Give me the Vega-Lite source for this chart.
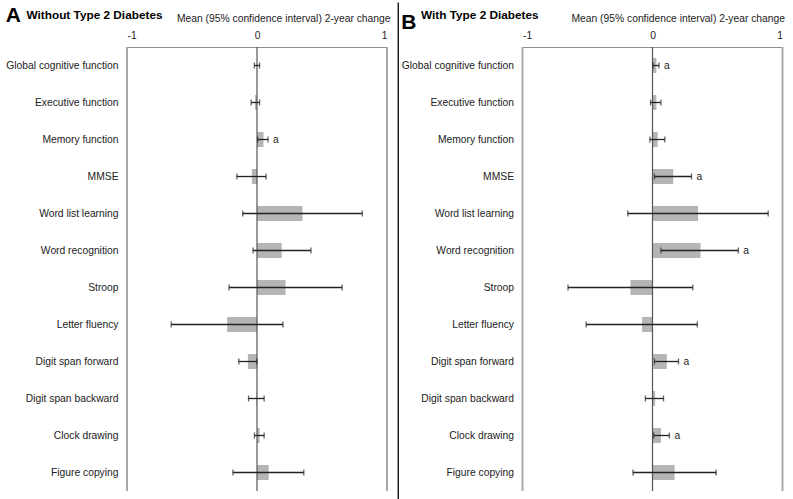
{
  "$schema": "https://vega.github.io/schema/vega-lite/v6.json",
  "padding": {"left": 5, "top": 1, "right": 4, "bottom": 5},
  "background": "white",
  "config": {
    "font": "Liberation Sans",
    "view": {"stroke": null},
    "concat": {"spacing": 1.5}
  },
  "datasets": {
    "scores": [
      {"panel": "A", "measure": "Global cognitive function", "mean": 0.0, "lo": -0.02, "hi": 0.02, "sig": ""},
      {"panel": "A", "measure": "Executive function", "mean": -0.015, "lo": -0.045, "hi": 0.02, "sig": ""},
      {"panel": "A", "measure": "Memory function", "mean": 0.05, "lo": 0.005, "hi": 0.085, "sig": "a"},
      {"panel": "A", "measure": "MMSE", "mean": -0.04, "lo": -0.155, "hi": 0.07, "sig": ""},
      {"panel": "A", "measure": "Word list learning", "mean": 0.35, "lo": -0.11, "hi": 0.81, "sig": ""},
      {"panel": "A", "measure": "Word recognition", "mean": 0.19, "lo": -0.03, "hi": 0.415, "sig": ""},
      {"panel": "A", "measure": "Stroop", "mean": 0.22, "lo": -0.215, "hi": 0.655, "sig": ""},
      {"panel": "A", "measure": "Letter fluency", "mean": -0.23, "lo": -0.66, "hi": 0.2, "sig": ""},
      {"panel": "A", "measure": "Digit span forward", "mean": -0.07, "lo": -0.14, "hi": 0.0, "sig": ""},
      {"panel": "A", "measure": "Digit span backward", "mean": -0.005, "lo": -0.065, "hi": 0.055, "sig": ""},
      {"panel": "A", "measure": "Clock drawing", "mean": 0.02, "lo": -0.02, "hi": 0.055, "sig": ""},
      {"panel": "A", "measure": "Figure copying", "mean": 0.09, "lo": -0.185, "hi": 0.36, "sig": ""},
      {"panel": "B", "measure": "Global cognitive function", "mean": 0.03, "lo": 0.005, "hi": 0.05, "sig": "a"},
      {"panel": "B", "measure": "Executive function", "mean": 0.03, "lo": -0.015, "hi": 0.065, "sig": ""},
      {"panel": "B", "measure": "Memory function", "mean": 0.04, "lo": -0.02, "hi": 0.095, "sig": ""},
      {"panel": "B", "measure": "MMSE", "mean": 0.16, "lo": 0.015, "hi": 0.3, "sig": "a"},
      {"panel": "B", "measure": "Word list learning", "mean": 0.35, "lo": -0.19, "hi": 0.89, "sig": ""},
      {"panel": "B", "measure": "Word recognition", "mean": 0.37, "lo": 0.065, "hi": 0.66, "sig": "a"},
      {"panel": "B", "measure": "Stroop", "mean": -0.17, "lo": -0.65, "hi": 0.31, "sig": ""},
      {"panel": "B", "measure": "Letter fluency", "mean": -0.08, "lo": -0.51, "hi": 0.345, "sig": ""},
      {"panel": "B", "measure": "Digit span forward", "mean": 0.11, "lo": 0.015, "hi": 0.2, "sig": "a"},
      {"panel": "B", "measure": "Digit span backward", "mean": 0.02, "lo": -0.055, "hi": 0.085, "sig": ""},
      {"panel": "B", "measure": "Clock drawing", "mean": 0.065, "lo": 0.01, "hi": 0.13, "sig": "a"},
      {"panel": "B", "measure": "Figure copying", "mean": 0.17, "lo": -0.15, "hi": 0.49, "sig": ""}
    ]
  },
  "hconcat": [
    {
      "width": 260,
      "height": 444,
      "title": {"text": "A", "anchor": "start", "frame": "bounds", "fontSize": 21, "fontWeight": "bold", "color": "#000", "offset": -24},
      "layer": [
        {
          "layer": [
            {"data": {"values": [{}]}, "mark": {"type": "rule", "color": "#a8a8a8", "strokeWidth": 2}, "encoding": {"x": {"datum": -1, "type": "quantitative"}}},
            {"data": {"values": [{}]}, "mark": {"type": "rule", "color": "#a8a8a8", "strokeWidth": 2}, "encoding": {"x": {"datum": 1, "type": "quantitative"}}},
            {
              "data": {"name": "scores"},
              "transform": [{"filter": "datum.panel == 'A'"}],
              "mark": {"type": "bar", "color": "#b5b5b5", "size": 15},
              "encoding": {
                "y": {"field": "measure", "type": "nominal", "sort": null, "scale": {"paddingInner": 0, "paddingOuter": 0},
                  "axis": {"title": "Without Type 2 Diabetes", "titleAngle": 0, "titleAlign": "left", "titleBaseline": "alphabetic", "titleX": -101, "titleY": -29, "titleFontSize": 11.8, "titleFontWeight": "bold", "titleColor": "#000",
                    "ticks": false, "domain": false, "labelPadding": 9, "labelFontSize": 10.3, "labelColor": "#222", "minExtent": 121, "maxExtent": 121, "labelLimit": 200}},
                "x": {"field": "mean", "type": "quantitative", "scale": {"domain": [-1, 1], "nice": false, "zero": true},
                  "axis": {"orient": "top", "values": [-1, 0, 1], "labelExpr": "'' + datum.value", "grid": false, "ticks": false, "domainColor": "#8c8c8c", "labelPadding": 7, "labelFontSize": 10.3, "labelColor": "#222",
                    "title": "Mean (95% confidence interval) 2-year change", "titleFontSize": 10.3, "titleFontWeight": "normal", "titleColor": "#222", "titleX": 263, "titleY": -26, "titleAlign": "right", "titleBaseline": "alphabetic"}}
              }
            },
            {"data": {"values": [{}]}, "mark": {"type": "rule", "color": "#555", "strokeWidth": 1.2}, "encoding": {"x": {"datum": 0, "type": "quantitative"}}},
            {
              "data": {"name": "scores"},
              "transform": [{"filter": "datum.panel == 'A'"}],
              "mark": {"type": "rule", "color": "#222", "strokeWidth": 1.3},
              "encoding": {"y": {"field": "measure", "type": "nominal", "sort": null}, "x": {"field": "lo", "type": "quantitative"}, "x2": {"field": "hi"}}
            },
            {
              "data": {"name": "scores"},
              "transform": [{"filter": "datum.panel == 'A'"}],
              "mark": {"type": "tick", "color": "#222", "size": 6, "thickness": 1.3},
              "encoding": {"y": {"field": "measure", "type": "nominal", "sort": null}, "x": {"field": "lo", "type": "quantitative"}}
            },
            {
              "data": {"name": "scores"},
              "transform": [{"filter": "datum.panel == 'A'"}],
              "mark": {"type": "tick", "color": "#222", "size": 6, "thickness": 1.3},
              "encoding": {"y": {"field": "measure", "type": "nominal", "sort": null}, "x": {"field": "hi", "type": "quantitative"}}
            },
            {
              "data": {"name": "scores"},
              "transform": [{"filter": "datum.panel == 'A' && datum.sig == 'a'"}],
              "mark": {"type": "text", "align": "left", "dx": 5, "fontSize": 10.3, "color": "#222"},
              "encoding": {"y": {"field": "measure", "type": "nominal", "sort": null}, "x": {"field": "hi", "type": "quantitative"}, "text": {"field": "sig"}}
            }
          ]
        },
        {
          "data": {"values": [{}]},
          "mark": {"type": "rule", "color": "#000", "strokeWidth": 1.3},
          "encoding": {
            "x": {"datum": 1.0865, "type": "quantitative"},
            "y": {"datum": 1.1, "type": "quantitative", "scale": {"domain": [0, 1], "nice": false, "zero": false}, "axis": null},
            "y2": {"datum": -0.03}
          }
        }
      ],
      "resolve": {"scale": {"y": "independent"}, "axis": {"y": "independent"}}
    },
    {
      "width": 260,
      "height": 444,
      "title": {"text": "B", "anchor": "start", "frame": "bounds", "fontSize": 21, "fontWeight": "bold", "color": "#000", "offset": -24},
      "data": {"name": "scores"},
      "transform": [{"filter": "datum.panel == 'B'"}],
      "layer": [
        {"data": {"values": [{}]}, "mark": {"type": "rule", "color": "#a8a8a8", "strokeWidth": 2}, "encoding": {"x": {"datum": -1, "type": "quantitative"}}},
        {"data": {"values": [{}]}, "mark": {"type": "rule", "color": "#a8a8a8", "strokeWidth": 2}, "encoding": {"x": {"datum": 1, "type": "quantitative"}}},
        {
          "mark": {"type": "bar", "color": "#b5b5b5", "size": 15},
          "encoding": {
            "y": {"field": "measure", "type": "nominal", "sort": null, "scale": {"paddingInner": 0, "paddingOuter": 0},
              "axis": {"title": "With Type 2 Diabetes", "titleAngle": 0, "titleAlign": "left", "titleBaseline": "alphabetic", "titleX": -102, "titleY": -29, "titleFontSize": 11.8, "titleFontWeight": "bold", "titleColor": "#000",
                "ticks": false, "domain": false, "labelPadding": 9, "labelFontSize": 10.3, "labelColor": "#222", "minExtent": 121, "maxExtent": 121, "labelLimit": 200}},
            "x": {"field": "mean", "type": "quantitative", "scale": {"domain": [-1, 1], "nice": false, "zero": true},
              "axis": {"orient": "top", "values": [-1, 0, 1], "labelExpr": "'' + datum.value", "grid": false, "ticks": false, "domainColor": "#8c8c8c", "labelPadding": 7, "labelFontSize": 10.3, "labelColor": "#222",
                "title": "Mean (95% confidence interval) 2-year change", "titleFontSize": 10.3, "titleFontWeight": "normal", "titleColor": "#222", "titleX": 262, "titleY": -26, "titleAlign": "right", "titleBaseline": "alphabetic"}}
          }
        },
        {"data": {"values": [{}]}, "mark": {"type": "rule", "color": "#555", "strokeWidth": 1.2}, "encoding": {"x": {"datum": 0, "type": "quantitative"}}},
        {
          "mark": {"type": "rule", "color": "#222", "strokeWidth": 1.3},
          "encoding": {"y": {"field": "measure", "type": "nominal", "sort": null}, "x": {"field": "lo", "type": "quantitative"}, "x2": {"field": "hi"}}
        },
        {
          "mark": {"type": "tick", "color": "#222", "size": 6, "thickness": 1.3},
          "encoding": {"y": {"field": "measure", "type": "nominal", "sort": null}, "x": {"field": "lo", "type": "quantitative"}}
        },
        {
          "mark": {"type": "tick", "color": "#222", "size": 6, "thickness": 1.3},
          "encoding": {"y": {"field": "measure", "type": "nominal", "sort": null}, "x": {"field": "hi", "type": "quantitative"}}
        },
        {
          "transform": [{"filter": "datum.sig == 'a'"}],
          "mark": {"type": "text", "align": "left", "dx": 5, "fontSize": 10.3, "color": "#222"},
          "encoding": {"y": {"field": "measure", "type": "nominal", "sort": null}, "x": {"field": "hi", "type": "quantitative"}, "text": {"field": "sig"}}
        }
      ]
    }
  ]
}
